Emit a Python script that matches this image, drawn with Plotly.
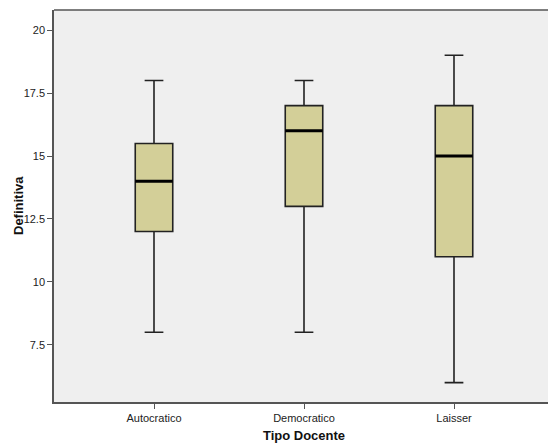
import plotly.graph_objects as go

categories = ["Autocratico", "Democratico", "Laisser"]
mins = [8, 8, 6]
q1s = [12, 13, 11]
medians = [14, 16, 15]
q3s = [15.5, 17, 17]
maxs = [18, 18, 19]
ytick_vals = [7.5, 10, 12.5, 15, 17.5, 20]
ytick_text = ["7.5", "10", "12.5", "15", "17.5", "20"]

xpos = list(range(len(categories)))
box_w = 0.25

fig = go.Figure()
fig.add_trace(go.Box(
    x=xpos, q1=q1s, median=medians, q3=q3s,
    lowerfence=mins, upperfence=maxs,
    width=box_w, whiskerwidth=0.5,
    fillcolor="#D3CF98",
    line=dict(color="#222222", width=1.6),
    boxpoints=False, showlegend=False, hoverinfo="skip",
))
for x, m in zip(xpos, medians):
    fig.add_trace(go.Scatter(
        x=[x - box_w / 2, x + box_w / 2], y=[m, m], mode="lines",
        line=dict(color="#000000", width=3), showlegend=False, hoverinfo="skip",
    ))

fig.update_layout(
    width=554, height=447,
    margin=dict(l=54, r=0, t=10, b=45, autoexpand=False),
    paper_bgcolor="white", plot_bgcolor="#EFEFEF",
    font=dict(family="Liberation Sans, Arial, sans-serif", color="#222222", size=11),
    annotations=[dict(
        text="<b>Definitiva</b>", xref="paper", yref="paper", x=0, y=0.5,
        xshift=-36, xanchor="center", yanchor="middle", textangle=-90,
        showarrow=False, font=dict(size=13, color="#111111"),
    )],
    shapes=[dict(
        type="line", xref="paper", yref="paper", x0=0, x1=1, y0=1, y1=1,
        line=dict(color="#555555", width=1.5),
    )],
)
fig.update_xaxes(
    range=[-0.6667, 2.6667], tickvals=xpos, ticktext=categories,
    showgrid=False, zeroline=False, showline=True, linecolor="#555555", linewidth=1.5,
    mirror=False, ticks="outside", ticklen=5, tickcolor="#555555",
    tickfont=dict(color="#222222", size=11),
    title=dict(text="<b>Tipo Docente</b>", font=dict(size=13, color="#111111"), standoff=8),
    automargin=False,
)
fig.update_yaxes(
    range=[5.23, 20.8], tickvals=ytick_vals, ticktext=ytick_text,
    showgrid=False, zeroline=False, showline=True, linecolor="#555555", linewidth=1.5,
    mirror=False, ticks="outside", ticklen=5, tickcolor="#555555",
    tickfont=dict(color="#222222", size=11),
    automargin=False,
)
fig.write_html(
    "out.html",
    config={"displayModeBar": False},
    post_script=(
        "document.documentElement.style.overflow='hidden';"
        "document.documentElement.style.margin='0';"
        "document.body.style.margin='0';document.body.style.overflow='hidden';"
    ),
)
